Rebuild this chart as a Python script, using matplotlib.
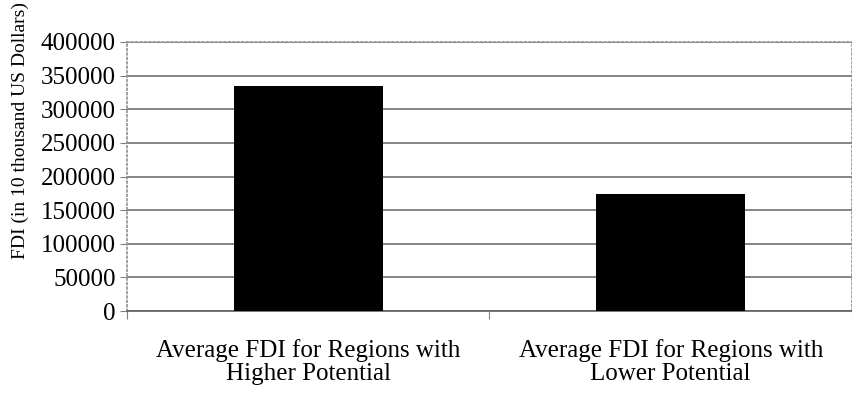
import numpy as np
import matplotlib.pyplot as plt

plt.rcParams['font.family'] = ['Liberation Serif', 'DejaVu Serif']

categories = ["Average FDI for Regions with\nHigher Potential",
              "Average FDI for Regions with\nLower Potential"]
fdi = [335000, 174500]
yticks = [0, 50000, 100000, 150000, 200000, 250000, 300000, 350000, 400000]

fig = plt.figure(figsize=(8.53, 3.93), dpi=100)
ax = fig.add_axes([127/853, 1-311/393, 725/853, 269/393])

x = np.arange(len(categories))
ax.bar(x, fdi, width=0.41, color='black', zorder=3)
ax.set_xlim(-0.5, 1.5)
ax.set_ylim(0, 400000)
ax.set_yticks(yticks)
ax.set_yticklabels([str(v) for v in yticks], fontsize=18)
ax.yaxis.grid(True, color='#707070', linewidth=1.2, zorder=0)

ax.set_xticks([-0.5, 0.5, 1.5])
ax.set_xticklabels([])
ax.set_xticks(x, minor=True)
ax.set_xticklabels(categories, minor=True, fontsize=18, linespacing=1.05)
ax.tick_params(axis='x', which='minor', length=0, pad=20)
ax.tick_params(axis='x', which='major', length=6, color='#808080', direction='out')
ax.tick_params(axis='y', length=5, color='#808080', pad=3)

for s in ['top', 'right', 'left']:
    ax.spines[s].set_color('#909090')
    ax.spines[s].set_linestyle(':')
    ax.spines[s].set_linewidth(1.2)
ax.spines['bottom'].set_color('#606060')
ax.spines['bottom'].set_linewidth(1.2)

ax.set_ylabel("FDI (in 10 thousand US Dollars)", fontsize=14)
ax.yaxis.set_label_coords(-0.135, 0.672)

fig.savefig("out.png", dpi=100)
